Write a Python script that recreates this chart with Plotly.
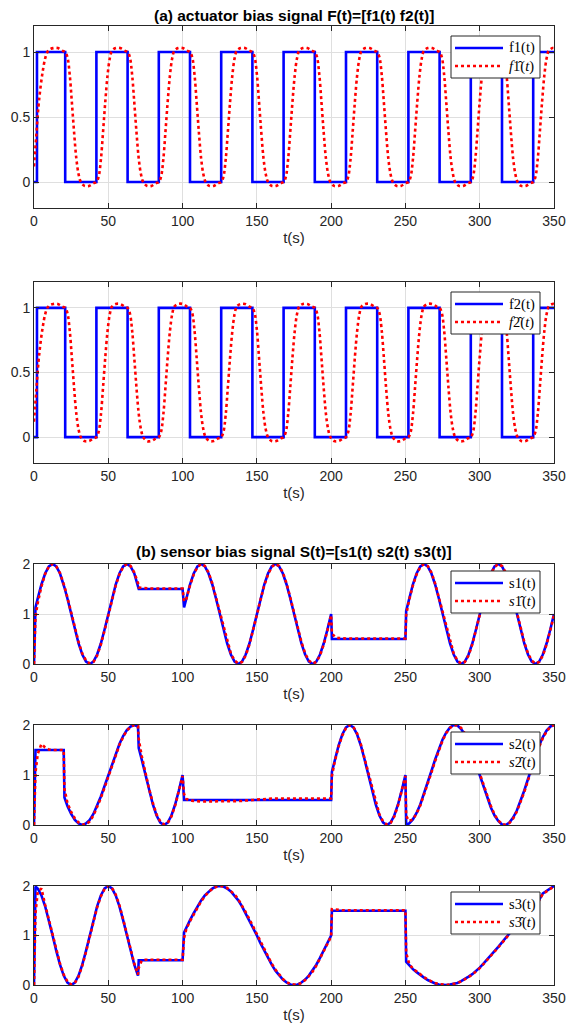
import plotly.graph_objects as go

# ---------------------------------------------------------------- data
X_TICKS = [0, 50, 100, 150, 200, 250, 300, 350]

# actuator bias: switching instants and the level held from each instant on
F_SWITCH_T = [0, 2, 21, 42, 63, 84, 105, 126, 147, 168, 189, 210, 231, 252,
              273, 294, 315, 336, 350]
F1_LEVEL = [0, 1, 0, 1, 0, 1, 0, 1, 0, 1, 0, 1, 0, 1, 0, 1, 0, 1, 1]
F2_LEVEL = [0, 1, 0, 1, 0, 1, 0, 1, 0, 1, 0, 1, 0, 1, 0, 1, 0, 1, 1]

# estimated actuator bias (sampled along the curve)
FHAT_T = [
    0, 1.5, 3, 4.5, 6, 7.5, 9, 10.5, 13, 16, 19,
    21, 22.5, 24, 25.5, 27, 28.5, 30, 31.5, 34, 37, 40,
    42, 43.5, 45, 46.5, 48, 49.5, 51, 52.5, 55, 58, 61,
    63, 64.5, 66, 67.5, 69, 70.5, 72, 73.5, 76, 79, 82,
    84, 85.5, 87, 88.5, 90, 91.5, 93, 94.5, 97, 100, 103,
    105, 106.5, 108, 109.5, 111, 112.5, 114, 115.5, 118, 121, 124,
    126, 127.5, 129, 130.5, 132, 133.5, 135, 136.5, 139, 142, 145,
    147, 148.5, 150, 151.5, 153, 154.5, 156, 157.5, 160, 163, 166,
    168, 169.5, 171, 172.5, 174, 175.5, 177, 178.5, 181, 184, 187,
    189, 190.5, 192, 193.5, 195, 196.5, 198, 199.5, 202, 205, 208,
    210, 211.5, 213, 214.5, 216, 217.5, 219, 220.5, 223, 226, 229,
    231, 232.5, 234, 235.5, 237, 238.5, 240, 241.5, 244, 247, 250,
    252, 253.5, 255, 256.5, 258, 259.5, 261, 262.5, 265, 268, 271,
    273, 274.5, 276, 277.5, 279, 280.5, 282, 283.5, 286, 289, 292,
    294, 295.5, 297, 298.5, 300, 301.5, 303, 304.5, 307, 310, 313,
    315, 316.5, 318, 319.5, 321, 322.5, 324, 325.5, 328, 331, 334,
    336, 337.5, 339, 340.5, 342, 343.5, 345, 346.5, 349, 350,
]
F1_HAT = [
    0.12, 0.35, 0.58, 0.74, 0.86, 0.95, 1.00, 1.02, 1.03, 1.03, 1.01,
    1.00, 0.96, 0.83, 0.61, 0.38, 0.18, 0.06, 0.00, -0.03, -0.03, -0.01,
    0.00, 0.04, 0.17, 0.39, 0.62, 0.82, 0.95, 1.01, 1.03, 1.03, 1.01,
    1.00, 0.96, 0.83, 0.61, 0.38, 0.18, 0.06, 0.00, -0.03, -0.03, -0.01,
    0.00, 0.04, 0.17, 0.39, 0.62, 0.82, 0.95, 1.01, 1.03, 1.03, 1.01,
    1.00, 0.96, 0.83, 0.61, 0.38, 0.18, 0.06, 0.00, -0.03, -0.03, -0.01,
    0.00, 0.04, 0.17, 0.39, 0.62, 0.82, 0.95, 1.01, 1.03, 1.03, 1.01,
    1.00, 0.96, 0.83, 0.61, 0.38, 0.18, 0.06, 0.00, -0.03, -0.03, -0.01,
    0.00, 0.04, 0.17, 0.39, 0.62, 0.82, 0.95, 1.01, 1.03, 1.03, 1.01,
    1.00, 0.96, 0.83, 0.61, 0.38, 0.18, 0.06, 0.00, -0.03, -0.03, -0.01,
    0.00, 0.04, 0.17, 0.39, 0.62, 0.82, 0.95, 1.01, 1.03, 1.03, 1.01,
    1.00, 0.96, 0.83, 0.61, 0.38, 0.18, 0.06, 0.00, -0.03, -0.03, -0.01,
    0.00, 0.04, 0.17, 0.39, 0.62, 0.82, 0.95, 1.01, 1.03, 1.03, 1.01,
    1.00, 0.96, 0.83, 0.61, 0.38, 0.18, 0.06, 0.00, -0.03, -0.03, -0.01,
    0.00, 0.04, 0.17, 0.39, 0.62, 0.82, 0.95, 1.01, 1.03, 1.03, 1.01,
    1.00, 0.96, 0.83, 0.61, 0.38, 0.18, 0.06, 0.00, -0.03, -0.03, -0.01,
    0.00, 0.04, 0.17, 0.39, 0.62, 0.82, 0.95, 1.01, 1.03, 1.03,
]
F2_HAT = [
    0.12, 0.35, 0.58, 0.74, 0.86, 0.95, 1.00, 1.02, 1.03, 1.03, 1.01,
    1.00, 0.96, 0.83, 0.61, 0.38, 0.18, 0.06, 0.00, -0.03, -0.03, -0.01,
    0.00, 0.04, 0.17, 0.39, 0.62, 0.82, 0.95, 1.01, 1.03, 1.03, 1.01,
    1.00, 0.96, 0.83, 0.61, 0.38, 0.18, 0.06, 0.00, -0.03, -0.03, -0.01,
    0.00, 0.04, 0.17, 0.39, 0.62, 0.82, 0.95, 1.01, 1.03, 1.03, 1.01,
    1.00, 0.96, 0.83, 0.61, 0.38, 0.18, 0.06, 0.00, -0.03, -0.03, -0.01,
    0.00, 0.04, 0.17, 0.39, 0.62, 0.82, 0.95, 1.01, 1.03, 1.03, 1.01,
    1.00, 0.96, 0.83, 0.61, 0.38, 0.18, 0.06, 0.00, -0.03, -0.03, -0.01,
    0.00, 0.04, 0.17, 0.39, 0.62, 0.82, 0.95, 1.01, 1.03, 1.03, 1.01,
    1.00, 0.96, 0.83, 0.61, 0.38, 0.18, 0.06, 0.00, -0.03, -0.03, -0.01,
    0.00, 0.04, 0.17, 0.39, 0.62, 0.82, 0.95, 1.01, 1.03, 1.03, 1.01,
    1.00, 0.96, 0.83, 0.61, 0.38, 0.18, 0.06, 0.00, -0.03, -0.03, -0.01,
    0.00, 0.04, 0.17, 0.39, 0.62, 0.82, 0.95, 1.01, 1.03, 1.03, 1.01,
    1.00, 0.96, 0.83, 0.61, 0.38, 0.18, 0.06, 0.00, -0.03, -0.03, -0.01,
    0.00, 0.04, 0.17, 0.39, 0.62, 0.82, 0.95, 1.01, 1.03, 1.03, 1.01,
    1.00, 0.96, 0.83, 0.61, 0.38, 0.18, 0.06, 0.00, -0.03, -0.03, -0.01,
    0.00, 0.04, 0.17, 0.39, 0.62, 0.82, 0.95, 1.01, 1.03, 1.03,
]

# sensor bias: common sample instants
S_T = [
    0, 1, 2.5, 5, 7.5, 10, 12.5, 15, 17.5, 20,
    20.5, 22.5, 25, 27.5, 30, 32.5, 35, 37.5, 40, 42.5, 45, 47.5, 50,
    52.5, 55, 57.5, 60, 62.5, 65, 67.5, 70,
    70.5, 72.5, 75, 77.5, 80, 82.5, 85, 87.5, 90, 92.5, 95, 97.5, 100,
    101, 102.5, 105, 107.5, 110, 112.5, 115, 117.5, 120, 122.5, 125,
    127.5, 130, 132.5, 135, 137.5, 140, 142.5, 145, 147.5, 150,
    152.5, 155, 157.5, 160, 162.5, 165, 167.5, 170, 172.5, 175,
    177.5, 180, 182.5, 185, 187.5, 190, 192.5, 195, 197.5, 200,
    200.5, 202.5, 205, 207.5, 210, 212.5, 215, 217.5, 220, 222.5, 225,
    227.5, 230, 232.5, 235, 237.5, 240, 242.5, 245, 247.5, 250,
    250.5, 252.5, 255, 257.5, 260, 262.5, 265, 267.5, 270, 272.5, 275,
    277.5, 280, 282.5, 285, 287.5, 290, 292.5, 295, 297.5, 300,
    302.5, 305, 307.5, 310, 312.5, 315, 317.5, 320, 322.5, 325,
    327.5, 330, 332.5, 335, 337.5, 340, 342.5, 345, 347.5, 350,
]
S1 = [
    0.00, 1.13, 1.31, 1.59, 1.81, 1.95, 2.00, 1.95, 1.81, 1.59,
    1.53, 1.31, 1.00, 0.69, 0.41, 0.19, 0.05, 0.00, 0.05, 0.19, 0.41, 0.69, 1.00,
    1.31, 1.59, 1.81, 1.95, 2.00, 1.95, 1.81, 1.59,
    1.50, 1.50, 1.50, 1.50, 1.50, 1.50, 1.50, 1.50, 1.50, 1.50, 1.50, 1.50, 1.50,
    1.13, 1.31, 1.59, 1.81, 1.95, 2.00, 1.95, 1.81, 1.59, 1.31, 1.00,
    0.69, 0.41, 0.19, 0.05, 0.00, 0.05, 0.19, 0.41, 0.69, 1.00,
    1.31, 1.59, 1.81, 1.95, 2.00, 1.95, 1.81, 1.59, 1.31, 1.00,
    0.69, 0.41, 0.19, 0.05, 0.00, 0.05, 0.19, 0.41, 0.69, 1.00,
    0.50, 0.50, 0.50, 0.50, 0.50, 0.50, 0.50, 0.50, 0.50, 0.50, 0.50,
    0.50, 0.50, 0.50, 0.50, 0.50, 0.50, 0.50, 0.50, 0.50, 0.50,
    1.06, 1.31, 1.59, 1.81, 1.95, 2.00, 1.95, 1.81, 1.59, 1.31, 1.00,
    0.69, 0.41, 0.19, 0.05, 0.00, 0.05, 0.19, 0.41, 0.69, 1.00,
    1.31, 1.59, 1.81, 1.95, 2.00, 1.95, 1.81, 1.59, 1.31, 1.00,
    0.69, 0.41, 0.19, 0.05, 0.00, 0.05, 0.19, 0.41, 0.69, 1.00,
]
S1_HAT = [
    0.00, 0.95, 1.22, 1.55, 1.80, 1.95, 2.00, 1.95, 1.82, 1.61,
    1.55, 1.33, 1.03, 0.72, 0.44, 0.21, 0.07, 0.01, 0.04, 0.17, 0.39, 0.67, 0.98,
    1.29, 1.57, 1.79, 1.94, 2.00, 1.96, 1.83, 1.62,
    1.53, 1.52, 1.51, 1.51, 1.51, 1.51, 1.51, 1.51, 1.51, 1.51, 1.51, 1.51, 1.51,
    1.25, 1.30, 1.57, 1.79, 1.94, 2.00, 1.96, 1.83, 1.61, 1.33, 1.03,
    0.72, 0.44, 0.21, 0.07, 0.01, 0.04, 0.17, 0.39, 0.67, 0.98,
    1.29, 1.57, 1.79, 1.94, 2.00, 1.96, 1.83, 1.61, 1.33, 1.03,
    0.72, 0.44, 0.21, 0.07, 0.01, 0.04, 0.17, 0.39, 0.67, 0.98,
    0.62, 0.54, 0.52, 0.51, 0.51, 0.51, 0.51, 0.51, 0.51, 0.51, 0.51,
    0.51, 0.51, 0.51, 0.51, 0.51, 0.51, 0.51, 0.51, 0.51, 0.51,
    0.98, 1.28, 1.57, 1.79, 1.94, 2.00, 1.96, 1.83, 1.61, 1.33, 1.03,
    0.72, 0.44, 0.21, 0.07, 0.01, 0.04, 0.17, 0.39, 0.67, 0.98,
    1.29, 1.57, 1.79, 1.94, 2.00, 1.96, 1.83, 1.61, 1.33, 1.03,
    0.72, 0.44, 0.21, 0.07, 0.01, 0.04, 0.17, 0.39, 0.67, 0.98,
]
S2 = [
    0.00, 1.50, 1.50, 1.50, 1.50, 1.50, 1.50, 1.50, 1.50, 1.50,
    0.55, 0.38, 0.22, 0.10, 0.03, 0.00, 0.03, 0.10, 0.22, 0.38, 0.57, 0.78, 1.00,
    1.22, 1.43, 1.62, 1.78, 1.90, 1.97, 2.00, 1.97,
    1.54, 1.31, 1.00, 0.69, 0.41, 0.19, 0.05, 0.00, 0.05, 0.19, 0.41, 0.69, 1.00,
    0.50, 0.50, 0.50, 0.50, 0.50, 0.50, 0.50, 0.50, 0.50, 0.50, 0.50,
    0.50, 0.50, 0.50, 0.50, 0.50, 0.50, 0.50, 0.50, 0.50, 0.50,
    0.50, 0.50, 0.50, 0.50, 0.50, 0.50, 0.50, 0.50, 0.50, 0.50,
    0.50, 0.50, 0.50, 0.50, 0.50, 0.50, 0.50, 0.50, 0.50, 0.50,
    1.06, 1.31, 1.59, 1.81, 1.95, 2.00, 1.95, 1.81, 1.59, 1.31, 1.00,
    0.69, 0.41, 0.19, 0.05, 0.00, 0.05, 0.19, 0.41, 0.69, 1.00,
    0.00, 0.03, 0.11, 0.24, 0.41, 0.62, 0.84, 1.08, 1.31, 1.52, 1.71,
    1.85, 1.95, 2.00, 1.99, 1.92, 1.81, 1.65, 1.45, 1.23, 1.00,
    0.77, 0.55, 0.35, 0.19, 0.08, 0.01, 0.00, 0.05, 0.15, 0.29,
    0.48, 0.69, 0.92, 1.16, 1.38, 1.59, 1.76, 1.89, 1.97, 2.00,
]
S2_HAT = [
    0.00, 1.05, 1.42, 1.62, 1.55, 1.51, 1.50, 1.50, 1.50, 1.50,
    0.72, 0.44, 0.26, 0.13, 0.05, 0.01, 0.01, 0.07, 0.19, 0.35, 0.54, 0.75, 0.97,
    1.19, 1.40, 1.60, 1.76, 1.89, 1.96, 2.00, 1.98,
    1.72, 1.38, 1.04, 0.72, 0.44, 0.21, 0.07, 0.01, 0.04, 0.17, 0.39, 0.67, 0.98,
    0.62, 0.52, 0.49, 0.48, 0.47, 0.47, 0.47, 0.47, 0.47, 0.47, 0.47,
    0.47, 0.47, 0.47, 0.47, 0.48, 0.48, 0.49, 0.49, 0.50, 0.51,
    0.51, 0.52, 0.52, 0.53, 0.53, 0.53, 0.53, 0.53, 0.53, 0.53,
    0.53, 0.53, 0.53, 0.53, 0.53, 0.53, 0.53, 0.53, 0.53, 0.53,
    0.98, 1.28, 1.57, 1.79, 1.94, 2.00, 1.96, 1.83, 1.61, 1.33, 1.03,
    0.72, 0.44, 0.21, 0.07, 0.01, 0.04, 0.17, 0.39, 0.67, 0.98,
    0.18, 0.08, 0.11, 0.23, 0.39, 0.60, 0.82, 1.05, 1.28, 1.50, 1.69,
    1.84, 1.94, 1.99, 2.00, 1.94, 1.83, 1.68, 1.48, 1.26, 1.03,
    0.80, 0.58, 0.38, 0.21, 0.09, 0.02, 0.00, 0.04, 0.13, 0.27,
    0.45, 0.66, 0.89, 1.13, 1.35, 1.56, 1.74, 1.87, 1.96, 2.00,
]
S3 = [
    0.00, 1.99, 1.95, 1.81, 1.59, 1.31, 1.00, 0.69, 0.41, 0.19,
    0.16, 0.05, 0.00, 0.05, 0.19, 0.41, 0.69, 1.00, 1.31, 1.59, 1.81, 1.95, 2.00,
    1.95, 1.81, 1.59, 1.31, 1.00, 0.69, 0.41, 0.19,
    0.50, 0.50, 0.50, 0.50, 0.50, 0.50, 0.50, 0.50, 0.50, 0.50, 0.50, 0.50, 0.50,
    1.06, 1.16, 1.31, 1.45, 1.59, 1.71, 1.81, 1.89, 1.95, 1.99, 2.00,
    1.99, 1.95, 1.89, 1.81, 1.71, 1.59, 1.45, 1.31, 1.16, 1.00,
    0.84, 0.69, 0.55, 0.41, 0.29, 0.19, 0.11, 0.05, 0.01, 0.00,
    0.01, 0.05, 0.11, 0.19, 0.29, 0.41, 0.55, 0.69, 0.84, 1.00,
    1.50, 1.50, 1.50, 1.50, 1.50, 1.50, 1.50, 1.50, 1.50, 1.50, 1.50,
    1.50, 1.50, 1.50, 1.50, 1.50, 1.50, 1.50, 1.50, 1.50, 1.50,
    0.47, 0.40, 0.32, 0.26, 0.20, 0.15, 0.10, 0.06, 0.03, 0.01, 0.00,
    0.00, 0.01, 0.02, 0.04, 0.08, 0.12, 0.17, 0.22, 0.28, 0.35,
    0.43, 0.51, 0.59, 0.68, 0.77, 0.86, 0.95, 1.05, 1.14, 1.23,
    1.32, 1.41, 1.50, 1.58, 1.65, 1.72, 1.85, 1.90, 1.95, 2.00,
]
S3_HAT = [
    0.00, 1.45, 1.88, 1.95, 1.62, 1.33, 1.02, 0.71, 0.43, 0.21,
    0.18, 0.07, 0.01, 0.04, 0.17, 0.39, 0.67, 0.98, 1.29, 1.57, 1.79, 1.94, 2.00,
    1.96, 1.83, 1.61, 1.33, 1.02, 0.71, 0.43, 0.21,
    0.35, 0.49, 0.51, 0.51, 0.51, 0.51, 0.51, 0.51, 0.51, 0.51, 0.51, 0.51, 0.51,
    0.95, 1.13, 1.29, 1.43, 1.57, 1.69, 1.79, 1.88, 1.94, 1.98, 2.00,
    1.99, 1.96, 1.90, 1.83, 1.73, 1.61, 1.47, 1.33, 1.18, 1.02,
    0.86, 0.71, 0.57, 0.43, 0.31, 0.21, 0.12, 0.06, 0.02, 0.01,
    0.01, 0.04, 0.10, 0.18, 0.27, 0.39, 0.53, 0.67, 0.82, 0.98,
    1.53, 1.53, 1.52, 1.51, 1.51, 1.51, 1.51, 1.51, 1.51, 1.51, 1.51,
    1.51, 1.51, 1.51, 1.51, 1.51, 1.51, 1.51, 1.51, 1.51, 1.51,
    0.65, 0.43, 0.33, 0.27, 0.21, 0.16, 0.11, 0.07, 0.04, 0.02, 0.01,
    0.00, 0.01, 0.02, 0.04, 0.07, 0.11, 0.16, 0.21, 0.27, 0.34,
    0.42, 0.50, 0.58, 0.67, 0.76, 0.85, 0.94, 1.04, 1.13, 1.22,
    1.31, 1.40, 1.49, 1.57, 1.64, 1.71, 1.84, 1.89, 1.94, 1.99,
]

# ---------------------------------------------------------------- style
BLUE = "#0000ff"
RED = "#ff0000"
AXIS_COL = "#262626"
GRID_COL = "#dfdfdf"
SANS = "Liberation Sans, Arial, sans-serif"
SERIF = "Liberation Serif, Times New Roman, serif"
W, H = 567, 1032
X0_PX, X1_PX = 34, 554
LINE_W = 2.6

# (top px, bottom px, y-range, y-ticks, y-tick text, legend box top px)
PANELS = [
    (26, 208, [-0.2, 1.2], [0, 0.5, 1], ["0", "0.5", "1"], 36),
    (282, 463, [-0.2, 1.2], [0, 0.5, 1], ["0", "0.5", "1"], 292),
    (564, 664, [0, 2], [0, 1, 2], ["0", "1", "2"], 571),
    (725, 825, [0, 2], [0, 1, 2], ["0", "1", "2"], 732),
    (886, 985, [0, 2], [0, 1, 2], ["0", "1", "2"], 892),
]

SERIES = [
    (F_SWITCH_T, F1_LEVEL, "hv", "f1(t)", FHAT_T, F1_HAT, "spline", "<i>f</i>1&#770;(<i>t</i>)"),
    (F_SWITCH_T, F2_LEVEL, "hv", "f2(t)", FHAT_T, F2_HAT, "spline", "<i>f</i>2&#770;(<i>t</i>)"),
    (S_T, S1, "linear", "s1(t)", S_T, S1_HAT, "linear", "<i>s</i>1&#770;(<i>t</i>)"),
    (S_T, S2, "linear", "s2(t)", S_T, S2_HAT, "linear", "<i>s</i>2&#770;(<i>t</i>)"),
    (S_T, S3, "linear", "s3(t)", S_T, S3_HAT, "linear", "<i>s</i>3&#770;(<i>t</i>)"),
]

# legend box geometry (px): left, right, height, row offsets, sample span, text x
LEG_L, LEG_R, LEG_H = 451, 540, 42
LEG_ROWS = (12, 30)
LEG_SAMPLE = (455, 503)
LEG_TEXT_X = 507


def px_x(v):
    return v / W


def px_y(v):
    return 1 - v / H


fig = go.Figure()
shapes, annotations = [], []
layout = dict(
    width=W, height=H,
    margin=dict(l=0, r=0, t=0, b=0, autoexpand=False),
    paper_bgcolor="white", plot_bgcolor="white",
    font=dict(family=SANS, size=14, color=AXIS_COL),
    showlegend=False,
)

for i, (panel, series) in enumerate(zip(PANELS, SERIES), start=1):
    top, bot, yr, yt, ytt, leg_top = panel
    bt, by, bshape, bname, rt, ry, rshape, rname = series
    sfx = "" if i == 1 else str(i)

    blue_line = dict(color=BLUE, width=LINE_W, shape=bshape)
    red_line = dict(color=RED, width=LINE_W, dash="dot", shape=rshape)
    if rshape == "spline":
        red_line["smoothing"] = 1.0
    fig.add_trace(go.Scatter(x=bt, y=by, mode="lines", name=bname, line=blue_line,
                             xaxis=f"x{sfx}", yaxis=f"y{sfx}"))
    fig.add_trace(go.Scatter(x=rt, y=ry, mode="lines", name=rname, line=red_line,
                             xaxis=f"x{sfx}", yaxis=f"y{sfx}"))

    common = dict(
        showline=True, linecolor=AXIS_COL, linewidth=1, mirror="ticks",
        ticks="inside", ticklen=5, tickcolor=AXIS_COL, tickwidth=1,
        showgrid=True, gridcolor=GRID_COL, gridwidth=1, zeroline=False,
        automargin=False,
        tickfont=dict(family=SANS, size=14, color=AXIS_COL),
    )
    layout[f"xaxis{sfx}"] = dict(
        common, domain=[px_x(X0_PX), px_x(X1_PX)], range=[0, 350],
        tickvals=X_TICKS, ticktext=[str(v) for v in X_TICKS],
        anchor=f"y{sfx}",
        title=dict(text="t(s)", font=dict(family=SANS, size=15, color=AXIS_COL),
                   standoff=4),
    )
    layout[f"yaxis{sfx}"] = dict(
        common, domain=[px_y(bot), px_y(top)], range=yr,
        tickvals=yt, ticktext=ytt, anchor=f"x{sfx}",
    )

    # boxed legend in the upper-right corner of the panel
    shapes.append(dict(type="rect", xref="paper", yref="paper",
                       x0=px_x(LEG_L), x1=px_x(LEG_R),
                       y0=px_y(leg_top + LEG_H), y1=px_y(leg_top),
                       fillcolor="white", line=dict(color=AXIS_COL, width=1)))
    for off, name, col, dash in ((LEG_ROWS[0], bname, BLUE, "solid"),
                                 (LEG_ROWS[1], rname, RED, "dot")):
        yy = px_y(leg_top + off)
        shapes.append(dict(type="line", xref="paper", yref="paper",
                           x0=px_x(LEG_SAMPLE[0]), x1=px_x(LEG_SAMPLE[1]), y0=yy, y1=yy,
                           line=dict(color=col, width=LINE_W, dash=dash)))
        annotations.append(dict(text=name, x=px_x(LEG_TEXT_X), y=yy,
                                xref="paper", yref="paper", showarrow=False,
                                xanchor="left", yanchor="middle",
                                font=dict(family=SERIF, size=14.5, color="#000000")))

xc = (X0_PX + X1_PX) / 2 / W
annotations += [
    dict(text="<b>(a) actuator bias signal F(t)=[f1(t) f2(t)]</b>", x=xc, y=px_y(15),
         xref="paper", yref="paper", showarrow=False, xanchor="center", yanchor="middle",
         font=dict(family=SANS, size=15.5, color="#000000")),
    dict(text="<b>(b) sensor bias signal S(t)=[s1(t) s2(t) s3(t)]</b>", x=xc, y=px_y(551),
         xref="paper", yref="paper", showarrow=False, xanchor="center", yanchor="middle",
         font=dict(family=SANS, size=15.5, color="#000000")),
]
layout["shapes"] = shapes
layout["annotations"] = annotations
fig.update_layout(**layout)
fig.write_html("out.html")
